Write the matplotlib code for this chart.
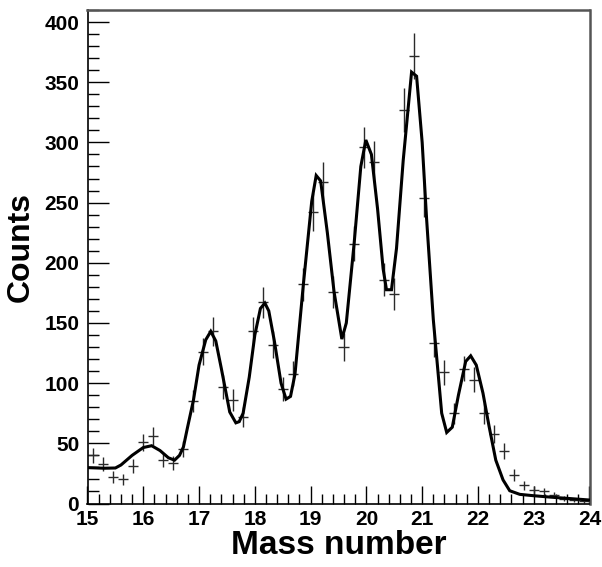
import numpy as np
import matplotlib
matplotlib.use("Agg")
import matplotlib.pyplot as plt
from matplotlib.ticker import MultipleLocator

# ---- data ----
x_min, x_max, n_bins = 15.0, 24.0, 50
counts = [40, 33, 22, 20, 31, 51, 56, 36, 34, 45,
          85, 126, 143, 97, 86, 72, 143, 167, 132, 95,
          108, 182, 242, 267, 176, 130, 216, 296, 284, 186,
          174, 327, 372, 254, 133, 109, 75, 112, 103, 75,
          58, 44, 24, 15, 11, 10, 7, 4, 3, 2]

fit_x = [15.00, 15.30, 15.50, 15.60, 15.80, 16.00, 16.15, 16.30, 16.45, 16.56,
         16.65, 16.72, 16.79, 16.90, 17.00, 17.12, 17.21, 17.30, 17.40, 17.55,
         17.66, 17.72, 17.79, 17.90, 18.00, 18.10, 18.18, 18.25, 18.35, 18.47,
         18.56, 18.64, 18.72, 18.87, 19.02, 19.10, 19.18, 19.30, 19.42, 19.56,
         19.64, 19.78, 19.90, 19.99, 20.09, 20.20, 20.30, 20.36, 20.45, 20.54,
         20.66, 20.81, 20.90, 21.00, 21.08, 21.20, 21.35, 21.44, 21.54, 21.65,
         21.78, 21.87, 21.97, 22.09, 22.20, 22.32, 22.45, 22.57, 22.75, 22.99,
         23.30, 23.59, 24.00]
fit_y = [29.8, 29.3, 29.5, 32.0, 40.0, 46.5, 48.0, 44.0, 38.0, 36.0,
         40.0, 47.0, 62.5, 86.0, 115.0, 136.0, 143.0, 135.0, 112.0, 76.0,
         67.0, 68.0, 75.0, 105.0, 140.0, 162.0, 166.5, 160.0, 135.0, 100.0,
         86.7, 89.0, 107.5, 182.0, 251.0, 272.5, 268.0, 225.0, 176.0, 136.6,
         150.0, 216.0, 280.0, 302.0, 290.0, 245.0, 195.0, 177.6, 177.6, 212.0,
         285.0, 358.4, 355.0, 300.0, 236.0, 152.7, 75.0, 59.0, 63.4, 90.0,
         118.0, 122.7, 115.0, 91.7, 64.0, 36.0, 19.6, 10.6, 7.6, 6.5,
         5.3, 4.3, 2.9]

x_label = "Mass number"
y_label = "Counts"

# ---- figure ----
edges = np.linspace(x_min, x_max, n_bins + 1)
centers = 0.5 * (edges[:-1] + edges[1:])
half_w = 0.5 * (edges[1] - edges[0])
cnt = np.array(counts, dtype=float)

plt.rcParams['font.family'] = ['Liberation Sans', 'DejaVu Sans']
fig = plt.figure(figsize=(6.02, 5.67), dpi=100)
ax_l, ax_r, ax_b, ax_t = 87.5, 589.5, 503.5, 10.0
ax = fig.add_axes([ax_l / 602, 1 - ax_b / 567, (ax_r - ax_l) / 602, (ax_b - ax_t) / 567])

ax.errorbar(centers, cnt, xerr=half_w, yerr=np.sqrt(cnt), fmt='none',
            ecolor='#2a2a2a', elinewidth=1.0, capsize=0, zorder=2)
ax.plot(fit_x, fit_y, color='black', lw=2.2, zorder=3, solid_joinstyle='miter')

ax.set_xlim(x_min, x_max)
ax.set_ylim(0, 410)
ax.xaxis.set_major_locator(MultipleLocator(1))
ax.xaxis.set_minor_locator(MultipleLocator(0.2))
ax.yaxis.set_major_locator(MultipleLocator(50))
ax.yaxis.set_minor_locator(MultipleLocator(10))
ax.tick_params(which='both', direction='in', top=False, right=False,
               labelsize=15, width=1.0, color='black')
ax.tick_params(axis='x', which='major', length=13, pad=5)
ax.tick_params(axis='x', which='minor', length=7)
ax.tick_params(axis='y', which='major', length=15, pad=6)
ax.tick_params(axis='y', which='minor', length=8)
for lab in ax.get_xticklabels() + ax.get_yticklabels():
    lab.set_fontweight('bold')

for s in ['left', 'bottom']:
    ax.spines[s].set_color('black')
    ax.spines[s].set_linewidth(1.2)
for s in ['top', 'right']:
    ax.spines[s].set_color('#555555')
    ax.spines[s].set_linewidth(1.8)

h = ax_b - ax_t
w = ax_r - ax_l
ax.set_xlabel(x_label, fontsize=24, fontweight='bold', va='center', ha='center')
ax.xaxis.set_label_coords(0.5, (ax_b - 545) / h)
ax.set_ylabel(y_label, fontsize=23, fontweight='bold', va='center', ha='center')
ax.yaxis.set_label_coords((21 - ax_l) / w, 0.52)

fig.savefig("out.png", dpi=100)
